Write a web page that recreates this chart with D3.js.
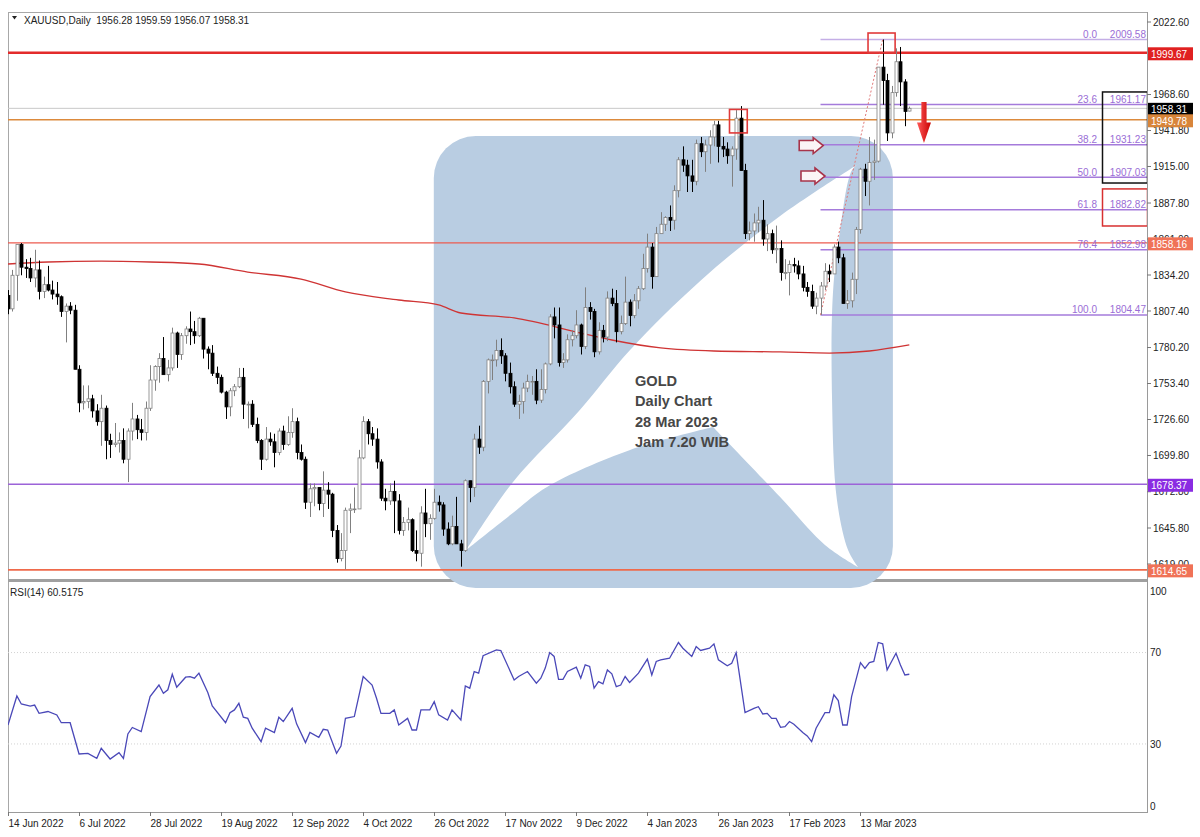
<!DOCTYPE html>
<html><head><meta charset="utf-8">
<script src="https://cdn.jsdelivr.net/npm/d3@7"></script>
<style>
body{margin:0;background:#fff}
svg{display:block}
text{font-family:"Liberation Sans",Arial,sans-serif}
</style>
</head><body>
<svg id="c" width="1200" height="837"></svg>
<script>
// ---------------- DATA ----------------
const symbolTitle = "XAUUSD,Daily  1956.28 1959.59 1956.07 1958.31";
const rsiTitle = "RSI(14) 60.5175";
// daily candles [open, high, low, close], 14 Jun 2022 .. 28 Mar 2023
const candles = [
[1819,1823,1805,1809],[1809,1838,1807,1834],[1834,1857,1815,1857],[1857,1858,1834,1840],[1840,1846,1832,1839],
[1839,1847,1829,1832],[1832,1853,1825,1838],[1838,1845,1816,1822],[1822,1833,1817,1827],[1827,1841,1822,1823],
[1823,1830,1816,1820],[1820,1829,1812,1818],[1818,1819,1803,1807],[1807,1813,1784,1811],[1811,1814,1805,1808],
[1808,1812,1764,1764],[1764,1767,1732,1739],[1739,1752,1734,1740],[1740,1752,1735,1742],[1742,1745,1728,1733],
[1733,1738,1722,1725],[1725,1745,1707,1735],[1735,1737,1697,1711],[1711,1716,1698,1708],[1708,1724,1706,1709],
[1709,1717,1702,1711],[1711,1720,1694,1697],[1697,1720,1680,1718],[1718,1739,1711,1727],[1727,1730,1712,1719],
[1719,1727,1711,1717],[1717,1740,1711,1735],[1735,1767,1733,1756],[1756,1767,1748,1766],[1766,1776,1754,1772],
[1772,1788,1760,1760],[1760,1771,1755,1765],[1765,1795,1763,1791],[1791,1792,1765,1775],[1775,1791,1771,1789],
[1789,1796,1783,1794],[1794,1807,1782,1792],[1792,1800,1783,1789],[1789,1803,1788,1802],[1802,1802,1772,1779],
[1779,1781,1764,1776],[1776,1782,1759,1761],[1761,1766,1753,1758],[1758,1760,1746,1747],[1747,1748,1727,1736],
[1736,1750,1729,1748],[1748,1753,1744,1751],[1751,1765,1750,1758],[1758,1765,1727,1738],[1738,1740,1720,1738],
[1738,1741,1721,1723],[1723,1728,1709,1711],[1711,1712,1689,1697],[1697,1721,1696,1712],[1712,1717,1707,1710],
[1710,1716,1691,1702],[1702,1720,1700,1718],[1718,1722,1704,1708],[1708,1729,1707,1717],[1717,1735,1713,1725],
[1725,1728,1697,1702],[1702,1708,1696,1697],[1697,1699,1660,1665],[1665,1679,1654,1675],[1675,1679,1662,1676],
[1676,1676,1659,1664],[1664,1688,1654,1674],[1674,1680,1660,1671],[1671,1672,1639,1644],[1644,1648,1620,1623],
[1623,1642,1621,1629],[1629,1661,1615,1659],[1659,1664,1642,1660],[1660,1676,1657,1660],[1660,1704,1660,1698],
[1698,1729,1697,1725],[1725,1727,1708,1716],[1716,1721,1707,1712],[1712,1720,1690,1695],[1695,1697,1666,1668],
[1668,1675,1659,1666],[1666,1679,1663,1673],[1673,1681,1642,1666],[1666,1671,1641,1644],[1644,1654,1640,1650],
[1650,1661,1644,1652],[1652,1653,1628,1629],[1629,1644,1621,1627],[1627,1662,1617,1657],[1657,1675,1639,1649],
[1649,1656,1637,1653],[1653,1675,1652,1665],[1665,1670,1658,1663],[1663,1665,1640,1645],[1645,1650,1633,1634],
[1634,1655,1633,1647],[1647,1669,1634,1634],[1634,1637,1617,1629],[1629,1682,1628,1681],[1681,1681,1665,1676],
[1676,1716,1669,1712],[1712,1722,1701,1706],[1706,1756,1703,1755],[1755,1772,1746,1771],[1771,1775,1756,1771],
[1771,1786,1766,1778],[1778,1787,1768,1774],[1774,1776,1755,1761],[1761,1769,1746,1751],[1751,1755,1736,1738],
[1738,1745,1727,1740],[1740,1754,1731,1750],[1750,1760,1747,1755],[1755,1759,1745,1755],[1755,1764,1738,1741],
[1741,1764,1739,1749],[1749,1769,1746,1768],[1768,1805,1767,1803],[1803,1810,1787,1797],[1797,1810,1766,1769],
[1769,1776,1765,1771],[1771,1790,1769,1786],[1786,1793,1781,1789],[1789,1808,1787,1797],[1797,1798,1775,1781],
[1781,1825,1779,1810],[1810,1814,1801,1807],[1807,1809,1773,1777],[1777,1799,1775,1793],[1793,1797,1784,1788],
[1788,1822,1785,1817],[1817,1824,1811,1813],[1813,1823,1784,1792],[1792,1804,1790,1798],[1798,1833,1797,1814],
[1814,1816,1796,1804],[1804,1820,1802,1815],[1815,1826,1809,1824],[1824,1850,1823,1839],[1839,1865,1836,1855],
[1855,1858,1824,1833],[1833,1870,1833,1865],[1865,1881,1865,1872],[1872,1878,1867,1877],[1877,1886,1867,1875],
[1875,1901,1868,1897],[1897,1922,1892,1920],[1920,1930,1911,1916],[1916,1920,1896,1908],[1908,1920,1896,1904],
[1904,1935,1901,1932],[1932,1937,1922,1926],[1926,1935,1911,1931],[1931,1942,1917,1937],[1937,1949,1930,1946],
[1946,1949,1918,1930],[1930,1937,1922,1928],[1928,1933,1917,1923],[1923,1930,1900,1928],[1928,1957,1920,1951],
[1951,1960,1912,1912],[1912,1917,1861,1865],[1865,1874,1860,1867],[1867,1880,1859,1873],[1873,1885,1866,1875],
[1875,1890,1856,1861],[1861,1872,1852,1865],[1865,1868,1850,1853],[1853,1871,1843,1854],[1854,1860,1830,1836],
[1836,1846,1831,1836],[1836,1845,1819,1842],[1842,1847,1836,1841],[1841,1845,1831,1835],[1835,1841,1822,1825],
[1825,1829,1818,1822],[1822,1827,1809,1811],[1811,1821,1805,1817],[1817,1829,1804.47,1826],[1826,1843,1823,1837],
[1837,1842,1829,1835],[1835,1857,1835,1855],[1855,1859,1843,1847],[1847,1850,1813,1813],[1813,1823,1809,1815],
[1815,1836,1810,1831],[1831,1870,1820,1868],[1868,1914,1865,1913],[1913,1917,1893,1904],[1904,1937,1886,1918],
[1918,1935,1905,1919],[1919,1989,1918,1989],[1989,2009.58,1961,1979],[1979,1984,1934,1940],[1940,1975,1936,1970],
[1970,2003,1967,1993],[1993,2004,1960,1978],[1978,1980,1945,1956],[1956.28,1959.59,1956.07,1958.31]
];
const dateTickBars = [0,16,32,48,64,80,96,112,128,144,160,176,192];
const dateTickLabels = ["14 Jun 2022","6 Jul 2022","28 Jul 2022","19 Aug 2022","12 Sep 2022","4 Oct 2022",
  "26 Oct 2022","17 Nov 2022","9 Dec 2022","4 Jan 2023","26 Jan 2023","17 Feb 2023","13 Mar 2023"];
const priceTicks = [2022.60,1968.60,1941.80,1915.00,1887.80,1861.00,1834.20,1807.40,1780.20,
  1753.40,1726.60,1699.80,1672.80,1645.80,1619.00];
const rsiTicks = [100,70,30,0];
const rsiLevels = [70,30];
// moving average (bar index, value)
const ma200 = [[0,1842.4],[9,1843.9],[21,1844.6],[32,1843.9],[43,1842.4],[54,1836.4],[66,1831.2],[76,1821.6],
  [88,1815.6],[97,1811.9],[102,1805.9],[114,1802.2],[129,1791.0],[136,1785.8],[147,1779.9],[159,1777.6],
  [174,1776.9],[185,1776.1],[194,1777.6],[203,1782.1]];
// RSI(14) (bar index, value)
const rsi = [[0,38.3],[2,51],[3,47.5],[5,46.6],[6,47],[7,43.4],[9,44.2],[11,42.7],[12,39.3],[14,39.3],[16,25.6],
 [18,25.9],[20,23.7],[21,28.1],[23,23.4],[25,26.2],[26,23.7],[27,34.4],[28,37.2],[30,35.4],[32,50.7],[34,55.8],
 [35,52.2],[36,53.7],[37,60.5],[38,54.8],[40,59.2],[41,59.5],[42,58.8],[43,61],[45,52.5],[46,46.6],[49,39.3],
 [50,43.7],[51,44.9],[52,47.8],[53,41.7],[54,41.2],[55,36.9],[57,31],[58,36.9],[60,35],[61,41.7],[62,39.8],
 [64,45.6],[65,38.8],[67,30.6],[68,35],[70,32.9],[71,36.4],[72,36.1],[74,25.9],[75,29.1],[76,41.2],[78,42],
 [80,59.5],[82,55.8],[83,50],[84,43.4],[86,43.4],[87,44.9],[88,38.3],[90,41.2],[91,36.1],[92,36.1],[93,44.9],
 [95,44.9],[96,48.5],[97,42.7],[99,40.5],[100,44.9],[102,40.5],[103,55.4],[104,54.4],[105,61.7],[106,61],
 [107,68.6],[110,71.2],[111,70.9],[114,58],[115,59.5],[117,61.7],[119,56.6],[120,58.8],[121,63.2],[122,70],
 [123,68.3],[124,58.3],[125,58.3],[126,61.7],[128,63.6],[129,58.8],[130,64.6],[131,63.9],[132,54.4],[133,57.3],
 [134,56.3],[135,62.4],[136,60.7],[137,55.1],[138,55.8],[139,59.5],[140,56.9],[142,61],[144,67.1],[145,60.2],
 [146,66.1],[147,66.8],[149,67.5],[151,74.4],[152,71.9],[154,68.3],[155,72.6],[156,70.9],[158,71.9],[159,73.8],
 [160,66.8],[162,64.2],[163,65.3],[164,70],[166,43.7],[168,45.6],[169,46.3],[170,43.1],[171,43.4],[172,41.2],
 [173,41.2],[174,37.3],[175,37.6],[176,39.8],[177,38.6],[179,35],[180,33.5],[181,31],[182,36.9],[184,43.7],
 [185,43.7],[186,51.5],[187,49],[188,38.3],[189,38.3],[190,50.7],[192,65.6],[193,63.1],[194,65.6],[195,66.1],
 [196,74.4],[197,73.8],[198,62.4],[199,66.1],[200,69.7],[201,64.6],[202,60.2],[203,60.5]];
// horizontal levels
const levelValues = [1999.67,1958.31,1949.78,1858.16,1678.37,1614.65];
// fibonacci retracement
const fibPercents = ["0.0","23.6","38.2","50.0","61.8","76.4","100.0"];
const fibValues = [2009.58,1961.17,1931.23,1907.03,1882.82,1852.98,1804.47];
const fibFrom = [183,1804.47], fibTo = [197,2009.58];
// annotation text
const noteLines = ["GOLD","Daily Chart","28 Mar 2023","Jam 7.20 WIB"];
// watermark shape (bar index, price)
const bgRect = [95.9,199.3,1937.7,1601.2];
const wedgeUpper = [[103.2,1629.4],[113.7,1679.9],[128.8,1733.7],[140.1,1778.4],[155.9,1829.8],[173.9,1878.1],[191.9,1917.6]];
const wedgeRight = [[191.9,1917.6],[190.1,1912.4],[187.4,1867.7],[185.8,1820.8],[185.6,1741.1],[186.7,1666.7],[189.2,1629.4],[191.4,1616.8]];
const wedgeLowR = [[191.4,1616.8],[184.0,1633.2],[173.9,1668.9],[158.8,1721.0]];
const wedgeLowL = [[158.8,1721.0],[140.1,1703.9],[121.4,1676.4],[113.7,1657.0],[103.2,1629.4]];
// marked boxes (bar0, bar1, priceTop, priceBottom)
const markBoxes = [[162.5,166.5,1957.5,1940.0],[193.7,199.8,2014.4,1999.7]];
// hollow arrows (bar, price)
const hollowArrows = [[178.2,1930.6],[178.6,1907.9]];
const downArrow = [206.3,1963,1932.5];

// ---------------- STYLE / LAYOUT ----------------
const levelStyles = [
  {stroke:"#e32b2b",w:2.6,box:"#e02020"},
  {stroke:"#c8c8c8",w:1,box:"#000000"},
  {stroke:"#dc8a3c",w:1.5,box:"#d8853a"},
  {stroke:"#ec5b4f",w:1.3,box:"#f07257"},
  {stroke:"#9c63d8",w:1.3,box:"#8a2be2"},
  {stroke:"#ef6a4b",w:1.8,box:"#f07257"}
];
const L=8, R=1147, T=12, MB=579;
const svg = d3.select("#c");
const x = d3.scaleLinear().domain([0,203]).range([8, 8+203*4.44]);
const y = d3.scaleLinear().domain([1619.0,2022.6]).range([564,22]);
const yr = d3.scaleLinear().domain([0,100]).range([812.5,584]);

const defs = svg.append("defs");
defs.append("clipPath").attr("id","mainClip").append("rect").attr("x",L).attr("y",T).attr("width",R-L).attr("height",MB-T);
defs.append("clipPath").attr("id","rsiClip").append("rect").attr("x",L).attr("y",583).attr("width",R-L).attr("height",230);
const grad = defs.append("linearGradient").attr("id","redGrad").attr("x1",0).attr("x2",1).attr("y1",0).attr("y2",0);
grad.append("stop").attr("offset","0%").attr("stop-color","#ff5a5a");
grad.append("stop").attr("offset","100%").attr("stop-color","#c80000");

// frame
const frame = svg.append("g").attr("fill","none");
frame.append("line").attr("x1",L).attr("x2",R).attr("y1",T+0.5).attr("y2",T+0.5).attr("stroke","#a8a8a8");
frame.append("line").attr("x1",L+0.5).attr("x2",L+0.5).attr("y1",T).attr("y2",812.5).attr("stroke","#a8a8a8");
frame.append("line").attr("x1",R+0.5).attr("x2",R+0.5).attr("y1",T).attr("y2",813).attr("stroke","#9a9a9a");
frame.append("line").attr("x1",L).attr("x2",R).attr("y1",580.5).attr("y2",580.5).attr("stroke","#a0a0a0").attr("stroke-width",3);
frame.append("line").attr("x1",L).attr("x2",R+1).attr("y1",812.5).attr("y2",812.5).attr("stroke","#9a9a9a");

// watermark shape
const shapeCol = "#b9cde2";
svg.append("rect")
  .attr("x",x(bgRect[0])).attr("y",y(bgRect[2]))
  .attr("width",x(bgRect[1])-x(bgRect[0])).attr("height",y(bgRect[3])-y(bgRect[2]))
  .attr("rx",42).attr("ry",42).attr("fill",shapeCol);
const seg = d3.line().x(d=>x(d[0])).y(d=>y(d[1])).curve(d3.curveCatmullRom.alpha(0.5));
const wedgePath = seg(wedgeUpper) + seg(wedgeRight).replace(/^M/,"L") + seg(wedgeLowR).replace(/^M/,"L") + seg(wedgeLowL).replace(/^M/,"L") + "Z";
svg.append("path").attr("d",wedgePath).attr("fill","#ffffff");

// main panel content
const main = svg.append("g").attr("clip-path","url(#mainClip)");

// horizontal levels
levelValues.forEach((v,i)=>{
  main.append("line").attr("x1",L).attr("x2",R).attr("y1",y(v)).attr("y2",y(v))
    .attr("stroke",levelStyles[i].stroke).attr("stroke-width",levelStyles[i].w);
});

// fib lines
fibValues.forEach((v,i)=>{
  main.append("line").attr("x1",x(fibFrom[0])).attr("x2",R).attr("y1",y(v)).attr("y2",y(v))
    .attr("stroke", i===0 ? "#c4aee6" : "#a57bdb").attr("stroke-width",1.4);
});
main.append("line").attr("x1",x(fibFrom[0])).attr("y1",y(fibFrom[1])).attr("x2",x(fibTo[0])).attr("y2",y(fibTo[1]))
  .attr("stroke","#e07878").attr("stroke-width",1).attr("stroke-dasharray","2,2");

// moving average
main.append("path").datum(ma200)
  .attr("d", d3.line().x(d=>x(d[0])).y(d=>y(d[1])).curve(d3.curveMonotoneX))
  .attr("fill","none").attr("stroke","#cf3434").attr("stroke-width",1.3);

// candles
const cg = main.append("g");
candles.forEach((c,i)=>{
  const [o,h,l,cl] = c;
  const bull = cl >= o;
  const cx = Math.round(x(i)) + 0.5;
  const col = bull ? "#808080" : "#000000";
  cg.append("line").attr("x1",cx).attr("x2",cx).attr("y1",y(h)).attr("y2",y(l)).attr("stroke",col).attr("stroke-width",1);
  const top = y(Math.max(o,cl)), bot = y(Math.min(o,cl));
  cg.append("rect").attr("x",cx-1.5).attr("y",top).attr("width",3).attr("height",Math.max(0.8,bot-top))
    .attr("fill", bull ? "#ffffff" : "#000000").attr("stroke",col).attr("stroke-width",0.8);
});

// marked boxes on chart
markBoxes.forEach(b=>{
  main.append("rect").attr("x",x(b[0])).attr("y",y(b[2])).attr("width",x(b[1])-x(b[0])).attr("height",y(b[3])-y(b[2]))
    .attr("fill","none").attr("stroke","#e03a3a").attr("stroke-width",1.6);
});

// hollow right arrows
hollowArrows.forEach(a=>{
  const ax = x(a[0]), ay = y(a[1]);
  const p = [[0,-5],[14,-5],[14,-8],[24,0],[14,8],[14,5],[0,5]].map(d=>[ax+d[0],ay+d[1]]);
  main.append("path").attr("d","M"+p.join("L")+"Z").attr("fill","#fbf4f5").attr("stroke","#a8344a").attr("stroke-width",1.6);
});

// red down arrow
{
  const ax = x(downArrow[0]), y0 = y(downArrow[1]), y1 = y(downArrow[2]);
  const hy = y0 + (y1-y0)*0.5;
  const p = [[ax-2.6,y0],[ax+2.6,y0],[ax+2.6,hy],[ax+7,hy],[ax,y1],[ax-7,hy],[ax-2.6,hy]];
  main.append("path").attr("d","M"+p.join("L")+"Z").attr("fill","url(#redGrad)");
}

// fib labels
fibValues.forEach((v,i)=>{
  main.append("text").attr("x",1097).attr("y",y(v)-1.5).attr("text-anchor","end")
    .attr("font-size",10).attr("fill","#9a6ed6").text(fibPercents[i]);
  main.append("text").attr("x",1146).attr("y",y(v)-1.5).attr("text-anchor","end")
    .attr("font-size",10).attr("fill","#9a6ed6").text(v.toFixed(2));
});

// right side boxes
main.append("rect").attr("x",1102.5).attr("y",y(1970.5)).attr("width",45).attr("height",y(1902.7)-y(1970.5))
  .attr("fill","none").attr("stroke","#111").attr("stroke-width",1.5);
main.append("rect").attr("x",1102.5).attr("y",y(1898.3)).attr("width",45).attr("height",y(1870.7)-y(1898.3))
  .attr("fill","none").attr("stroke","#d83030").attr("stroke-width",1.5);

// annotation text
noteLines.forEach((t,i)=>{
  svg.append("text").attr("x",635).attr("y",386+i*20.3).attr("font-size",14.6).attr("font-weight","bold")
    .attr("fill","#474747").text(t);
});

// header
svg.append("path").attr("d","M12,16L17,16L14.5,19.5Z").attr("fill","#222");
svg.append("text").attr("x",24).attr("y",24).attr("font-size",10).attr("fill","#222")
  .style("white-space","pre").text(symbolTitle);

// price axis
const ax = svg.append("g");
priceTicks.forEach(v=>{
  ax.append("line").attr("x1",R).attr("x2",R+4).attr("y1",y(v)).attr("y2",y(v)).attr("stroke","#777");
  ax.append("text").attr("x",R+6).attr("y",y(v)+3.6).attr("font-size",10).attr("fill","#222").text(v.toFixed(2));
});
levelValues.forEach((v,i)=>{
  ax.append("rect").attr("x",R+1).attr("y",y(v)-5.5).attr("width",45).attr("height",13).attr("fill",levelStyles[i].box);
  ax.append("text").attr("x",R+4).attr("y",y(v)+5).attr("font-size",10).attr("fill","#fff").text(v.toFixed(2));
});

// RSI panel
const rp = svg.append("g").attr("clip-path","url(#rsiClip)");
rsiLevels.forEach(v=>{
  rp.append("line").attr("x1",L).attr("x2",R).attr("y1",yr(v)).attr("y2",yr(v))
    .attr("stroke","#d2d2d2").attr("stroke-dasharray","1,2");
});
rp.append("path").datum(rsi).attr("d",d3.line().x(d=>x(d[0])).y(d=>yr(d[1])))
  .attr("fill","none").attr("stroke","#4a48b8").attr("stroke-width",1.3);
svg.append("text").attr("x",10).attr("y",596).attr("font-size",10).attr("fill","#222").text(rsiTitle);
rsiTicks.forEach(v=>{
  const ty = Math.min(Math.max(yr(v)+3.6,595),810);
  svg.append("text").attr("x",R+3).attr("y",ty).attr("font-size",10).attr("fill","#222").text(v);
});

// time axis
dateTickBars.forEach((b,i)=>{
  const tx = Math.round(x(b))+0.5;
  svg.append("line").attr("x1",tx).attr("x2",tx).attr("y1",812).attr("y2",816).attr("stroke","#777");
  svg.append("text").attr("x",tx).attr("y",827).attr("font-size",10).attr("fill","#222").text(dateTickLabels[i]);
});
</script>
</body></html>
